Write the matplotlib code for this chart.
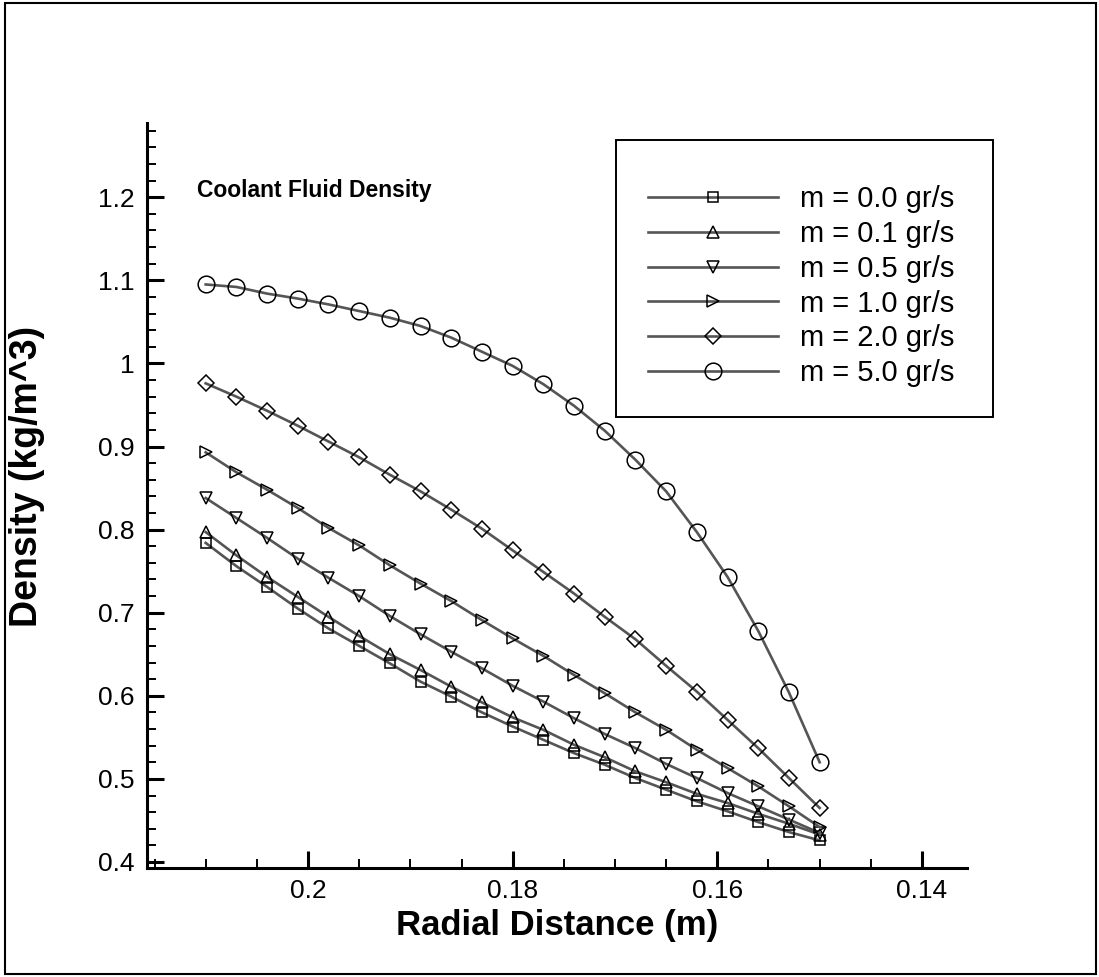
import matplotlib
matplotlib.use('Agg')
import matplotlib.pyplot as plt
from matplotlib.patches import Rectangle
from matplotlib.ticker import MultipleLocator, FormatStrFormatter

plt.rcParams['font.family'] = ['Liberation Sans', 'DejaVu Sans']

radial = [0.210, 0.207, 0.204, 0.201, 0.198, 0.195, 0.192, 0.189, 0.186, 0.183, 0.180,
          0.177, 0.174, 0.171, 0.168, 0.165, 0.162, 0.159, 0.156, 0.153, 0.150]

rho_00 = [0.784, 0.756, 0.731, 0.705, 0.681, 0.660, 0.639, 0.617, 0.599, 0.580, 0.563,
          0.547, 0.531, 0.517, 0.501, 0.487, 0.473, 0.461, 0.448, 0.436, 0.426]
rho_01 = [0.797, 0.769, 0.743, 0.719, 0.695, 0.672, 0.650, 0.631, 0.611, 0.592, 0.574,
          0.559, 0.541, 0.526, 0.509, 0.496, 0.482, 0.471, 0.458, 0.446, 0.433]
rho_05 = [0.838, 0.814, 0.790, 0.765, 0.742, 0.720, 0.696, 0.674, 0.653, 0.633, 0.612,
          0.593, 0.573, 0.554, 0.537, 0.518, 0.501, 0.483, 0.467, 0.451, 0.435]
rho_10 = [0.893, 0.869, 0.848, 0.826, 0.802, 0.781, 0.757, 0.735, 0.714, 0.691, 0.669,
          0.648, 0.625, 0.603, 0.580, 0.559, 0.535, 0.513, 0.491, 0.467, 0.442]
rho_20 = [0.976, 0.960, 0.943, 0.925, 0.906, 0.887, 0.866, 0.846, 0.824, 0.801, 0.775,
          0.749, 0.723, 0.695, 0.668, 0.636, 0.605, 0.571, 0.537, 0.501, 0.465]
rho_50 = [1.095, 1.092, 1.084, 1.078, 1.071, 1.063, 1.055, 1.045, 1.031, 1.014, 0.997,
          0.975, 0.949, 0.919, 0.884, 0.846, 0.797, 0.743, 0.678, 0.604, 0.520]

labels = ['m = 0.0 gr/s', 'm = 0.1 gr/s', 'm = 0.5 gr/s',
          'm = 1.0 gr/s', 'm = 2.0 gr/s', 'm = 5.0 gr/s']
series = [rho_00, rho_01, rho_05, rho_10, rho_20, rho_50]
markers = ['s', '^', 'v', '>', 'D', 'o']
msizes = [7.5, 8.5, 8.5, 8.5, 8.5, 12]

fig = plt.figure(figsize=(10.99, 9.77), dpi=100)
ax = fig.add_axes([0.1338, 0.1116, 0.7461, 0.7625])

for rho, mk, ms, lab in zip(series, markers, msizes, labels):
    ax.plot(radial, rho, color='#555555', lw=1.9, marker=mk, ms=ms,
            mfc='none', mec='black', mew=1.1, label=lab)

ax.set_xlim(0.21573, 0.1356)
ax.set_ylim(0.3928, 1.2893)

ax.xaxis.set_major_locator(MultipleLocator(0.02))
ax.xaxis.set_minor_locator(MultipleLocator(0.005))
ax.yaxis.set_major_locator(MultipleLocator(0.1))
ax.yaxis.set_minor_locator(MultipleLocator(0.02))
ax.xaxis.set_major_formatter(FormatStrFormatter('%g'))
ax.yaxis.set_major_formatter(FormatStrFormatter('%g'))

ax.spines['top'].set_visible(False)
ax.spines['right'].set_visible(False)
ax.spines['left'].set_linewidth(2.2)
ax.spines['bottom'].set_linewidth(2.2)
ax.tick_params(which='major', direction='in', length=12.2, width=2.2, labelsize=19, pad=8)
ax.tick_params(which='minor', direction='in', length=6.8, width=1.4)
ax.tick_params(axis='y', which='major', pad=9)

ax.set_xlabel('Radial Distance (m)', fontsize=25, fontweight='bold')
ax.xaxis.set_label_coords(0.5, -0.055)
ax.set_ylabel('Density (kg/m^3)', fontsize=27, fontweight='bold')
ax.yaxis.set_label_coords(-0.124, 0.526)

ax.text(0.061, 0.9007, 'Coolant Fluid Density', transform=ax.transAxes,
        fontsize=16.5, fontweight='bold', va='baseline')

# legend entries without frame, box drawn separately
leg = fig.legend(loc='upper left', bbox_to_anchor=(0.5896, 0.8106), frameon=False,
                 fontsize=21, borderpad=0, borderaxespad=0, handlelength=4.45,
                 handletextpad=0.75, labelspacing=0.235, numpoints=1)
fig.add_artist(Rectangle((0.5605, 0.5732), 0.343, 0.2835, transform=fig.transFigure,
                         fill=False, ec='black', lw=1.4))

# outer border
fig.add_artist(Rectangle((0.0045, 0.003), 0.9927, 0.9939, transform=fig.transFigure,
                         fill=False, ec='black', lw=1.5))

fig.savefig('out.png', dpi=100)
